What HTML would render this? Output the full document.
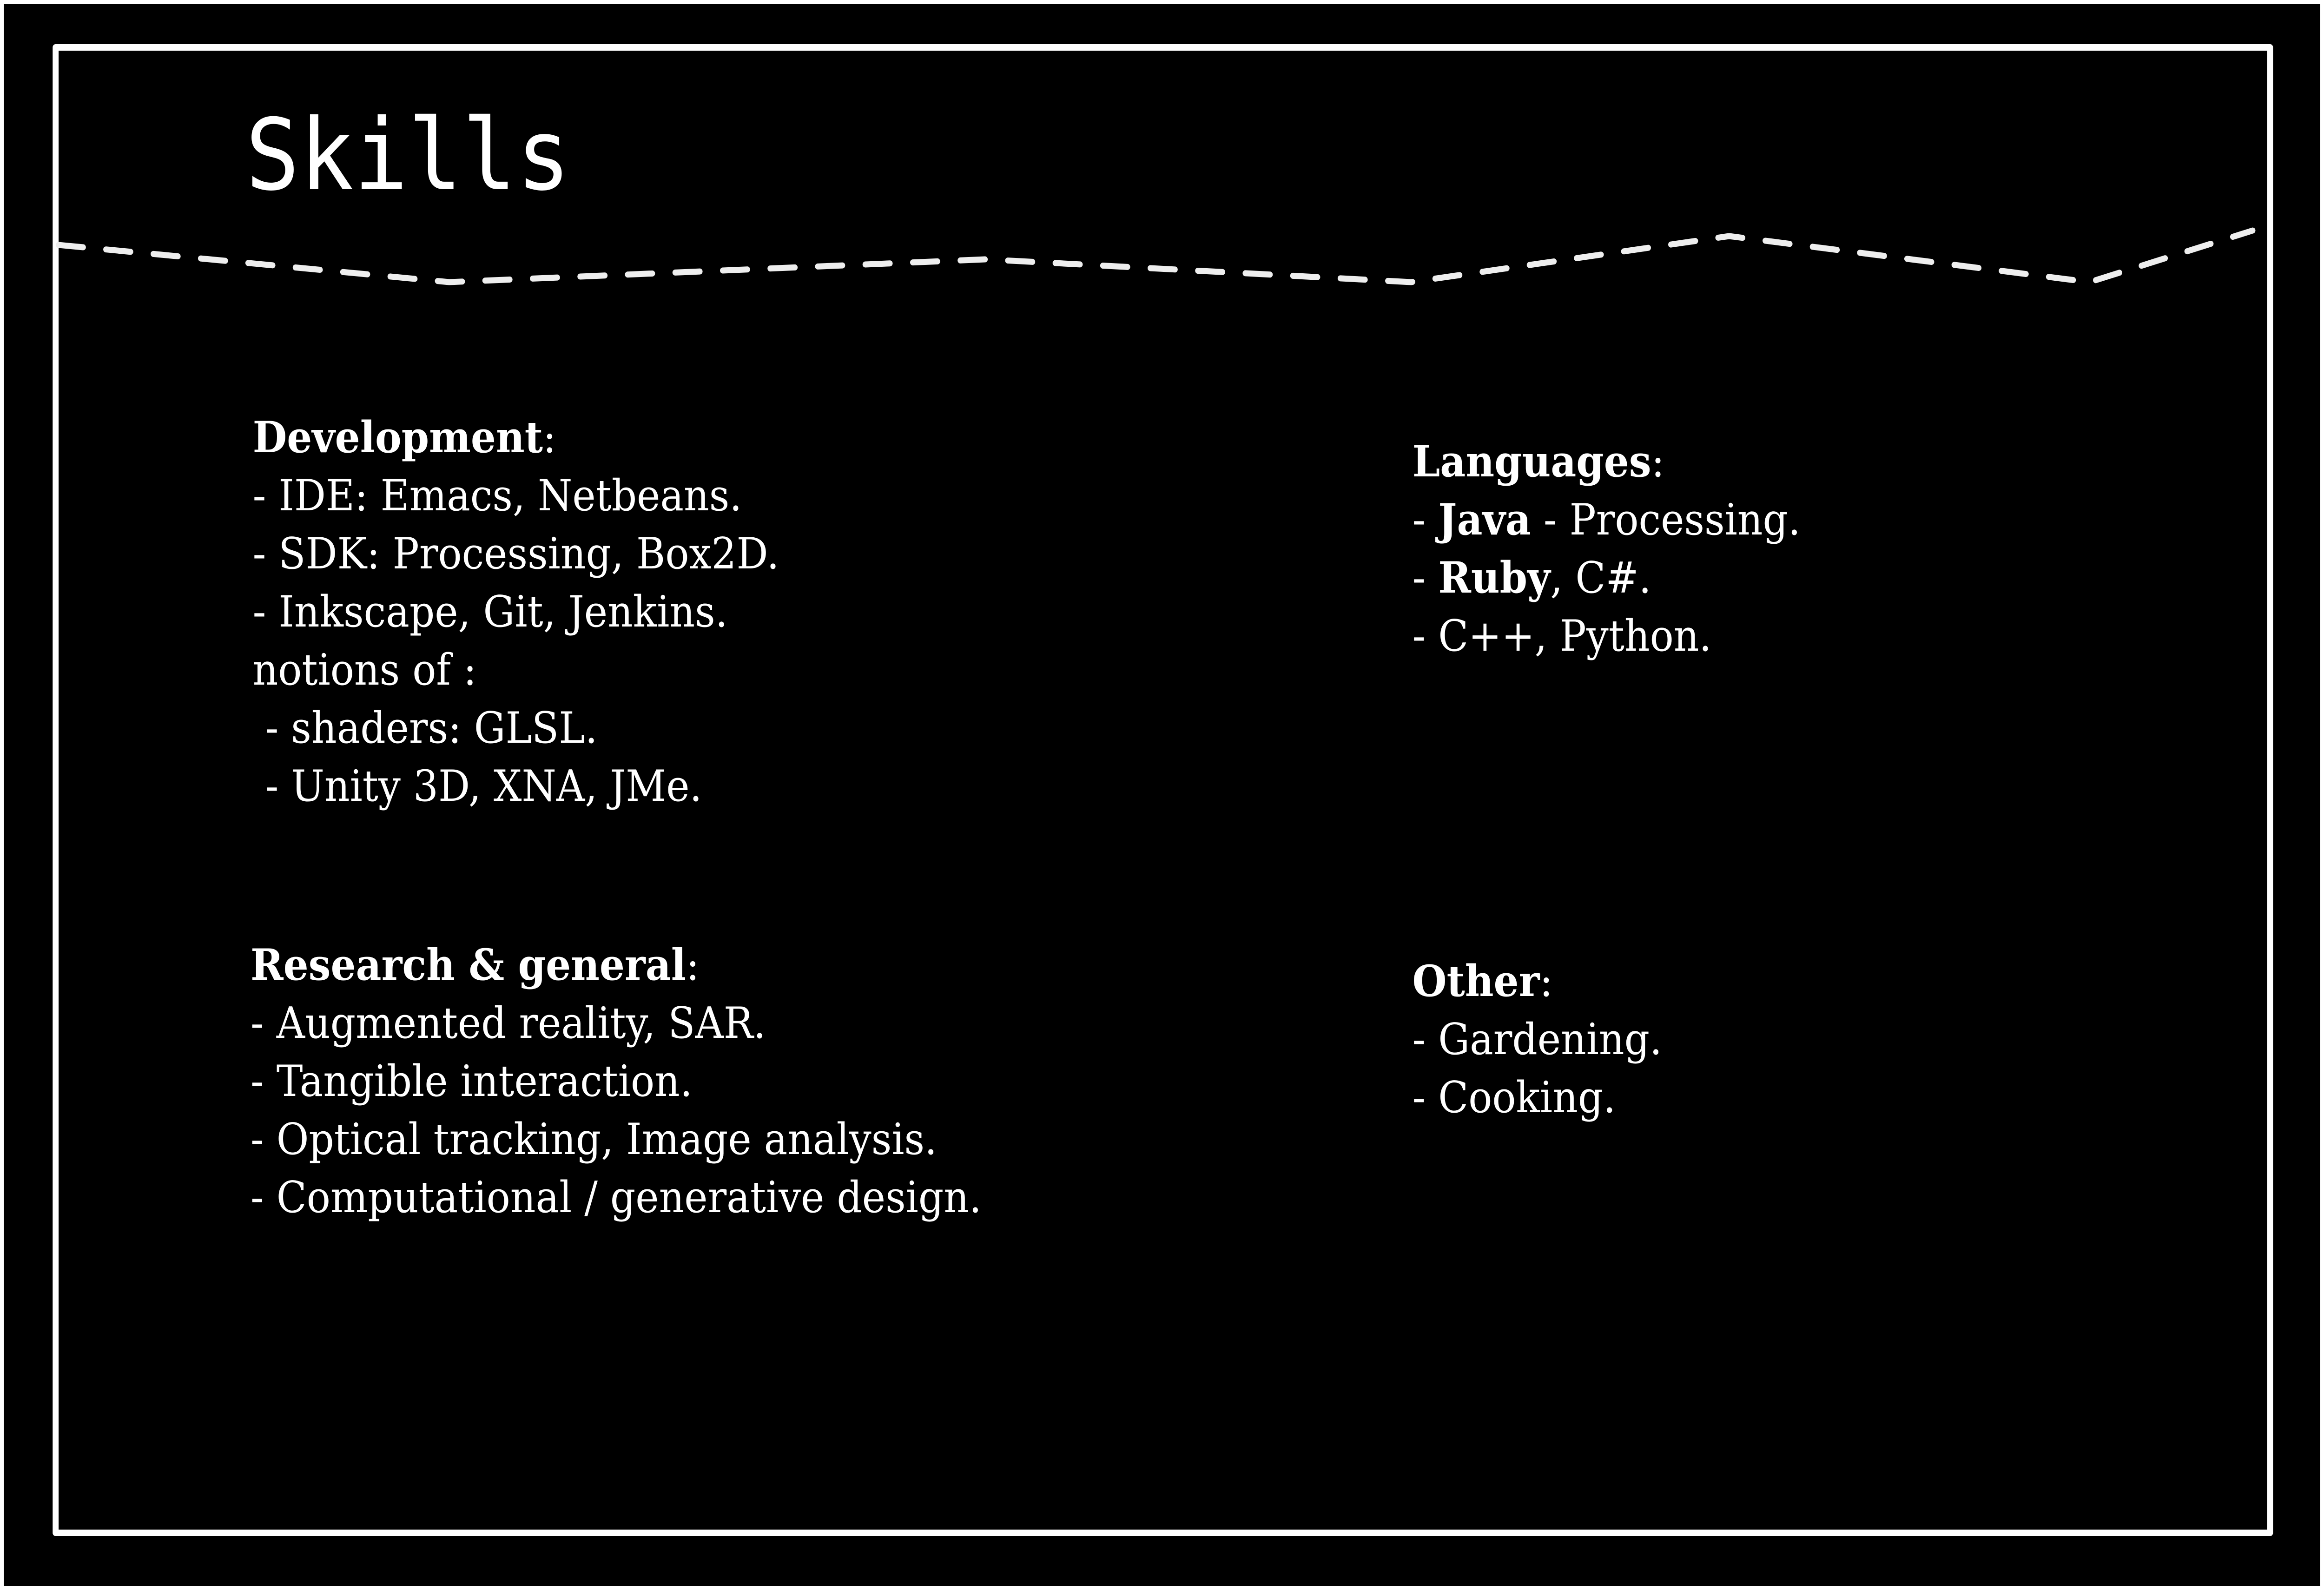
<!DOCTYPE html>
<html><head><meta charset="utf-8">
<style>
html,body{margin:0;padding:0;background:#000;width:100%;height:100%;overflow:hidden;}
svg{display:block;position:fixed;left:0;top:0;width:100vw;height:100vh;}
text{fill:#fff;}
.s{font-family:"DejaVu Serif","Liberation Serif",serif;font-size:93px;}
.b{font-weight:bold;}
</style></head>
<body>
<svg viewBox="0 0 5473 3421" preserveAspectRatio="none" xmlns="http://www.w3.org/2000/svg">
<rect x="0" y="0" width="5473" height="3421" fill="#000"/>
<rect x="4.5" y="4.5" width="5464" height="3412" fill="none" stroke="#fff" stroke-width="9"/>
<rect x="131" y="102" width="5215" height="3196" fill="none" stroke="#fff" stroke-width="14" stroke-linejoin="round"/>
<text x="578" y="407" font-family="'DejaVu Sans Mono','Liberation Mono',monospace" font-size="212">Skills</text>
<polyline points="138,527 1058,607 2321,558 3323,607 4072,508 4921,607 5305,496" fill="none" stroke="#eee" stroke-width="13" stroke-linecap="round" stroke-dasharray="58,54" stroke-linejoin="round"/>
<g class="s">
<text x="595" y="973"><tspan class="b">Development</tspan>:</text>
<text x="595" y="1098">- IDE: Emacs, Netbeans.</text>
<text x="595" y="1223">- SDK: Processing, Box2D.</text>
<text x="595" y="1348">- Inkscape, Git, Jenkins.</text>
<text x="595" y="1473">notions of :</text>
<text x="595" y="1598" xml:space="preserve"> - shaders: GLSL.</text>
<text x="595" y="1723" xml:space="preserve"> - Unity 3D, XNA, JMe.</text>

<text x="590" y="2108"><tspan class="b">Research &amp; general</tspan>:</text>
<text x="590" y="2233">- Augmented reality, SAR.</text>
<text x="590" y="2358">- Tangible interaction.</text>
<text x="590" y="2483">- Optical tracking, Image analysis.</text>
<text x="590" y="2608">- Computational / generative design.</text>

<text x="3326" y="1025"><tspan class="b">Languages</tspan>:</text>
<text x="3326" y="1150">- <tspan class="b">Java</tspan> - Processing.</text>
<text x="3326" y="1275">- <tspan class="b">Ruby</tspan>, C#.</text>
<text x="3326" y="1400">- C++, Python.</text>

<text x="3326" y="2143"><tspan class="b">Other</tspan>:</text>
<text x="3326" y="2268">- Gardening.</text>
<text x="3326" y="2393">- Cooking.</text>
</g>
</svg>
</body></html>
